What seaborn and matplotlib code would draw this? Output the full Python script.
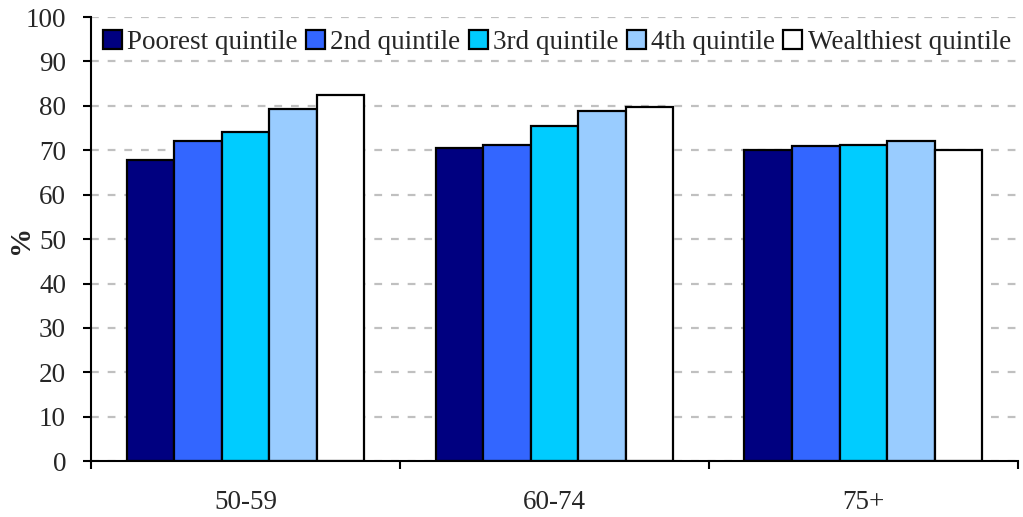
import matplotlib
matplotlib.use('Agg')
import matplotlib.pyplot as plt
import seaborn as sns
import pandas as pd
from matplotlib.patches import Patch

age_groups = ['50-59', '60-74', '75+']
quintiles = ['Poorest quintile', '2nd quintile', '3rd quintile', '4th quintile', 'Wealthiest quintile']
poorest = [67.9, 70.6, 70.0]
second = [72.2, 71.3, 71.0]
third = [74.2, 75.5, 71.3]
fourth = [79.4, 78.9, 72.2]
wealthiest = [82.4, 79.7, 70.0]
colors = ['#000080', '#3366FF', '#00CCFF', '#99CCFF', '#FFFFFF']

rows = []
for q, vals in zip(quintiles, [poorest, second, third, fourth, wealthiest]):
    for g, v in zip(age_groups, vals):
        rows.append({'age': g, 'quintile': q, 'pct': v})
df = pd.DataFrame(rows)

sns.set_style('white')
plt.rcParams['font.family'] = ['Liberation Serif', 'DejaVu Serif']
plt.rcParams['font.size'] = 19.5

fig = plt.figure(figsize=(10.23, 5.17), dpi=100)
ax = fig.add_axes([0.089, 0.108, 0.906, 0.859])

sns.barplot(data=df, x='age', y='pct', hue='quintile', hue_order=quintiles,
            palette=colors, saturation=1, width=0.77, edgecolor='black', linewidth=1.6,
            legend=False, ax=ax, errorbar=None)

ax.set_ylim(0, 100)
ax.set_xlim(-0.5, 2.5)
ax.set_yticks(range(0, 101, 10))
ax.yaxis.grid(True, linestyle=(0, (3.5, 4)), color='#c0c0c0', linewidth=1.6)
ax.set_axisbelow(True)
for s in ['top', 'right']:
    ax.spines[s].set_visible(False)
for s in ['left', 'bottom']:
    ax.spines[s].set_color('black')
    ax.spines[s].set_linewidth(1.5)

ax.set_xlabel('')
ax.set_ylabel('%', fontweight='bold', fontsize=21)
ax.yaxis.set_label_coords(-0.062, 0.5)
ax.tick_params(axis='y', direction='out', length=6, width=1.5, color='black', pad=12, left=True)
ax.tick_params(axis='x', which='major', length=0, pad=21)
ax.set_xticks([-0.5, 0.5, 1.5, 2.5], minor=True)
ax.tick_params(axis='x', which='minor', direction='out', length=6, width=1.5, color='black', bottom=True)

handles = [Patch(facecolor=c, edgecolor='black', linewidth=1.6, label=q) for c, q in zip(colors, quintiles)]
ax.legend(handles=handles, ncol=5, loc='upper left', bbox_to_anchor=(0.013, 0.97),
          frameon=False, handlelength=0.7, handleheight=0.7, handletextpad=0.2,
          columnspacing=0.3, borderaxespad=0, borderpad=0, fontsize=19.5)

fig.savefig('out.png', dpi=100)
